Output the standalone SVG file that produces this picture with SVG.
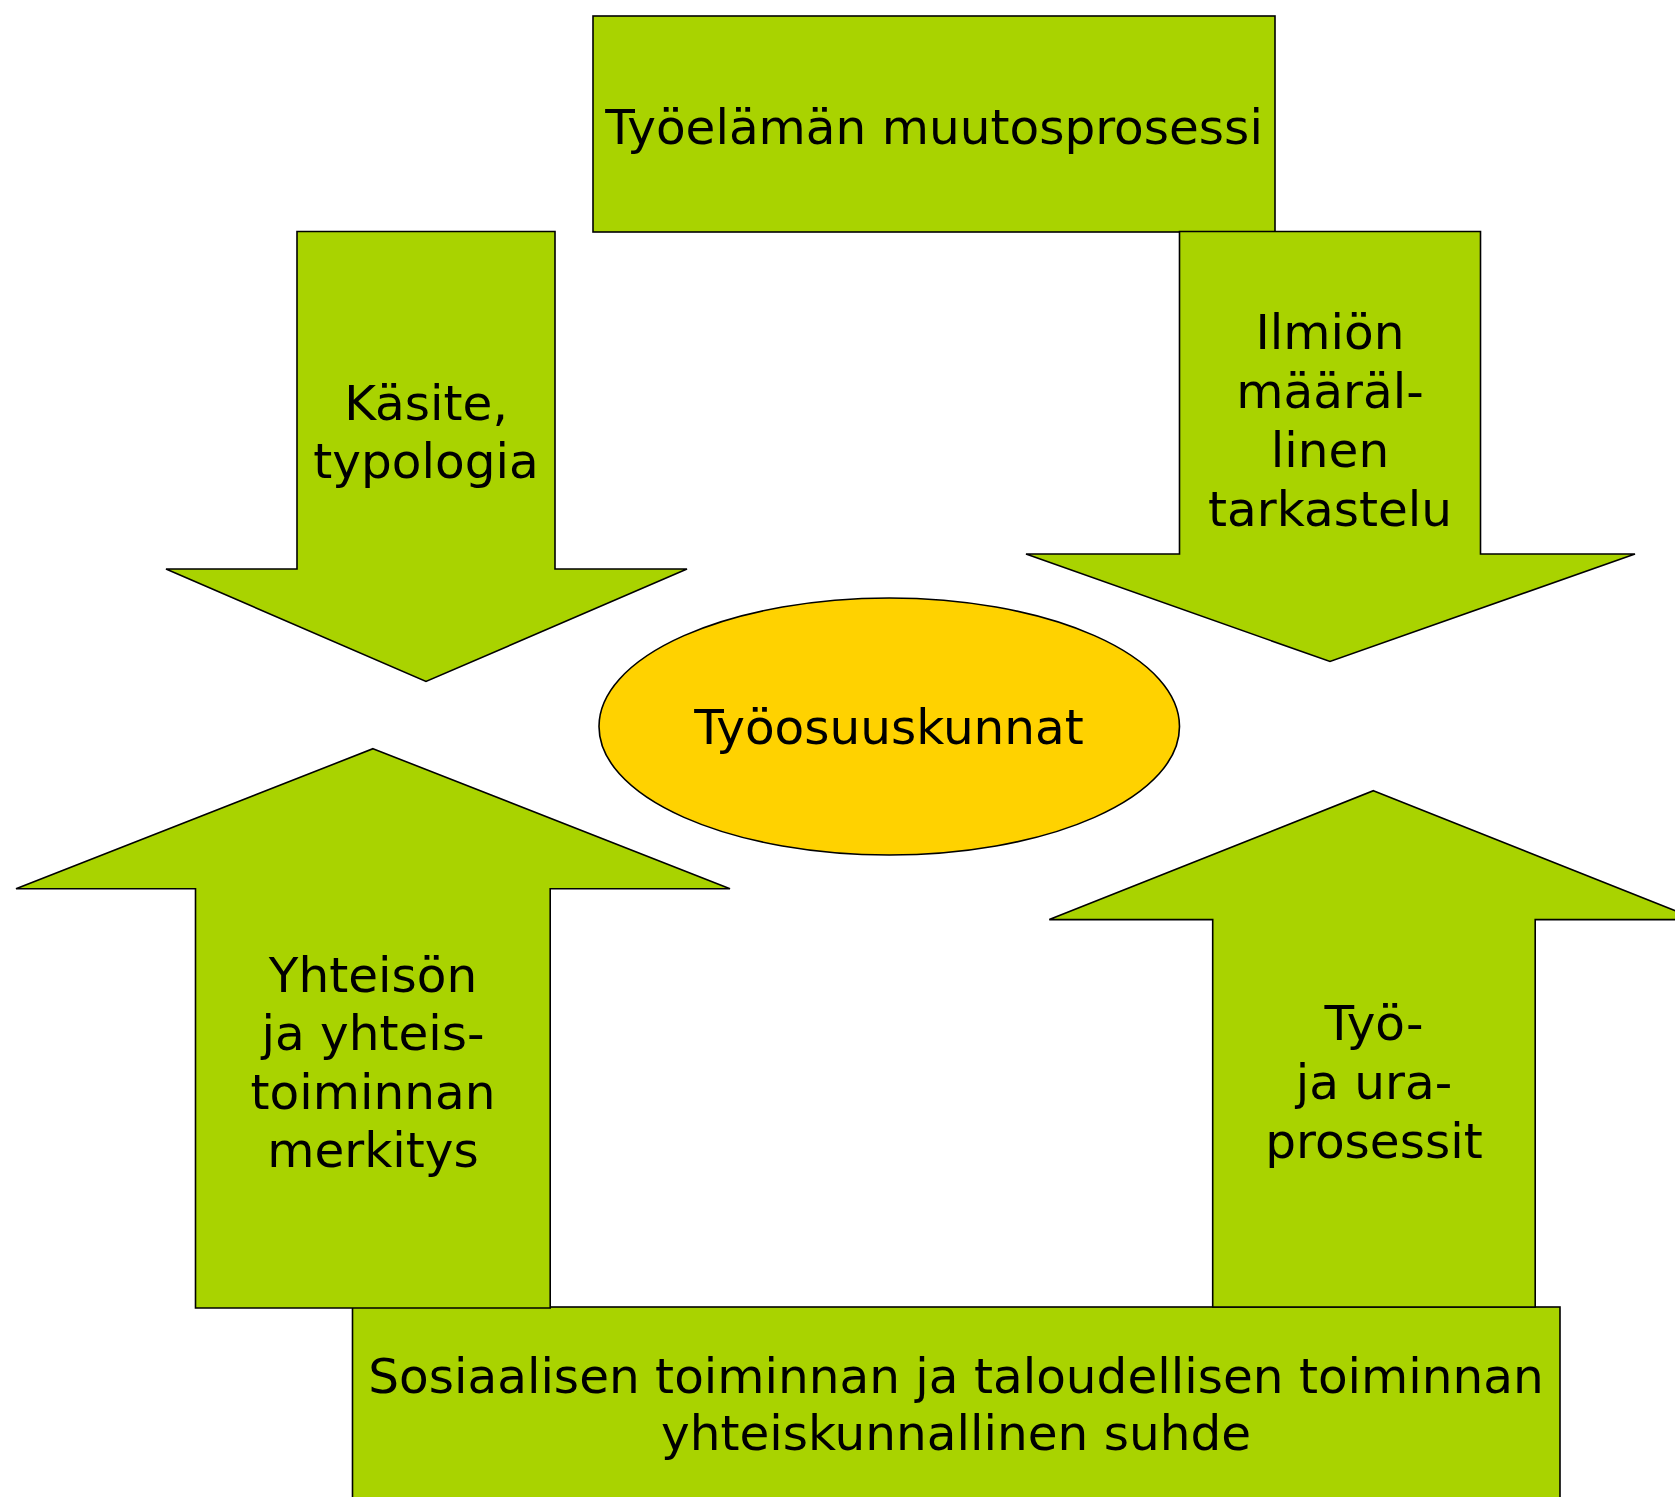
<svg xmlns="http://www.w3.org/2000/svg" width="1675" height="1497" viewBox="0 0 1675 1497">
<style>
.shape{fill:#A9D300;stroke:#000;stroke-width:1.6;stroke-linejoin:miter}
.ell{fill:#FFD200;stroke:#000;stroke-width:1.6}
text{font-family:"DejaVu Sans","Verdana",sans-serif;font-size:48.5px;fill:#000;text-anchor:middle}
</style>
<rect x="0" y="0" width="1675" height="1497" fill="#fff"/>
<g id="top-box">
<rect class="shape" x="593" y="16" width="682" height="216"/>
<text x="934" y="143.5">Työelämän muutosprosessi</text>
</g>
<g id="bottom-box">
<rect class="shape" x="352.5" y="1307" width="1207.5" height="210"/>
<text x="956" y="1392.5">Sosiaalisen toiminnan ja taloudellisen toiminnan</text>
<text x="956" y="1449.5">yhteiskunnallinen suhde</text>
</g>
<g id="arrow-kasite">
<polygon class="shape" points="297,231.5 555,231.5 555,569 687,569 426,681.5 166,569 297,569"/>
<text x="426" y="419.5">Käsite,</text>
<text x="426" y="478">typologia</text>
</g>
<g id="arrow-ilmion">
<polygon class="shape" points="1179.5,231.5 1480.5,231.5 1480.5,554 1635,554 1330,661.5 1026,554 1179.5,554"/>
<text x="1330" y="349">Ilmiön</text>
<text x="1330" y="408">määräl-</text>
<text x="1330" y="467">linen</text>
<text x="1330" y="526">tarkastelu</text>
</g>
<g id="arrow-yhteison">
<polygon class="shape" points="373,748.7 730,888.7 550.2,888.7 550.2,1308 195.5,1308 195.5,888.7 16,888.7"/>
<text x="373" y="992">Yhteisön</text>
<text x="373" y="1050">ja yhteis-</text>
<text x="373" y="1109">toiminnan</text>
<text x="373" y="1167">merkitys</text>
</g>
<g id="arrow-tyo">
<polygon class="shape" points="1373.4,790.7 1697.5,919.6 1535.2,919.6 1535.2,1307 1212.7,1307 1212.7,919.6 1049.3,919.6"/>
<text x="1374" y="1039.5">Työ-</text>
<text x="1374" y="1098.5">ja ura-</text>
<text x="1374" y="1157.5">prosessit</text>
</g>
<g id="center-ellipse">
<ellipse class="ell" cx="889.25" cy="726.5" rx="290.25" ry="128.5"/>
<text x="889" y="744">Työosuuskunnat</text>
</g>
<g id="connectors"/>
</svg>
